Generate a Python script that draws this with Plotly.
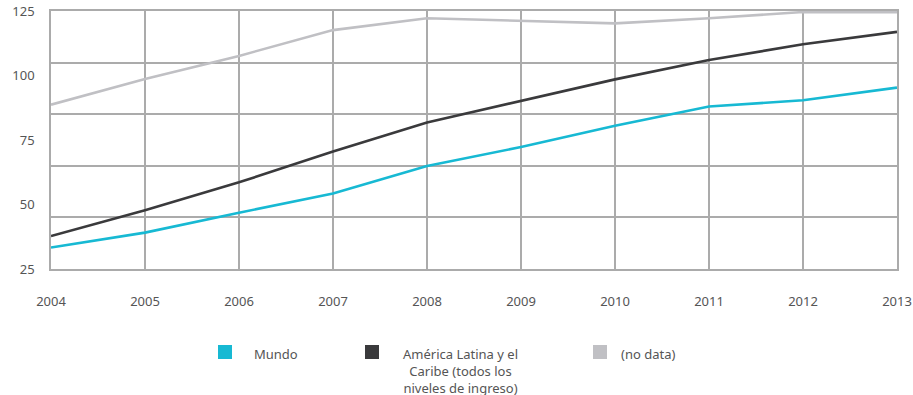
import plotly.graph_objects as go

years = [2004, 2005, 2006, 2007, 2008, 2009, 2010, 2011, 2012, 2013]
mundo = [33.3, 39.1, 46.8, 54.3, 64.9, 72.3, 80.5, 88.0, 90.4, 95.3]
lac = [37.8, 47.8, 58.6, 70.5, 81.8, 90.2, 98.5, 106.0, 112.1, 116.9]
nodata = [88.7, 98.6, 107.6, 117.6, 122.2, 121.2, 120.2, 122.2, 124.6, 124.5]

names = ["Mundo", "América Latina y el<br>Caribe (todos los<br>niveles de ingreso)", "(no data)"]
colors = ["#17b9d3", "#3a3a3c", "#c0c0c4"]
series = [mundo, lac, nodata]

y_ticks = [25, 50, 75, 100, 125]
grid_vals = [25, 45, 65, 85, 105, 125]

W, H = 913, 395
L, R, T, B = 51, 16, 11, 126
PW, PH = W - L - R, H - T - B

fig = go.Figure()
for name, col, vals in reversed(list(zip(names, colors, series))):
    fig.add_trace(go.Scatter(x=years, y=vals, mode="lines", name=name,
                             line=dict(color=col, width=2.6), showlegend=False,
                             cliponaxis=True))

gridc = "#ababab"
fig.update_layout(
    width=W, height=H,
    margin=dict(l=L, r=R, t=T, b=B, autoexpand=False),
    paper_bgcolor="white", plot_bgcolor="white",
    font=dict(family="Noto Sans", size=13, color="#555555"),
    xaxis=dict(range=[2004, 2013], tickvals=years, showgrid=True, gridcolor=gridc, gridwidth=1.6,
               showline=True, mirror=True, linecolor=gridc, linewidth=1.6, zeroline=False,
               ticks="", ticklabelstandoff=20, automargin=False),
    yaxis=dict(range=[25, 125], tickvals=y_ticks, showgrid=False, zeroline=False,
               showline=True, mirror=True, linecolor=gridc, linewidth=1.6,
               ticks="", ticklabelstandoff=12, automargin=False,
               minor=dict(tickvals=grid_vals, showgrid=True, gridcolor=gridc, gridwidth=1.6, ticks="")),
)

def px(x):
    return (x - L) / PW

def py(y):
    return (H - B - y) / PH

# legend built from series names/colors
sq_x = [218, 365, 593]
txt_x = [252, 460, 619]
anchors = ["left", "center", "left"]
for i in range(3):
    fig.add_shape(type="rect", xref="paper", yref="paper",
                  x0=px(sq_x[i]), x1=px(sq_x[i] + 14), y0=py(359), y1=py(345),
                  fillcolor=colors[i], line=dict(width=0))
    fig.add_annotation(xref="paper", yref="paper", x=px(txt_x[i]), y=py(343),
                       xanchor=anchors[i], yanchor="top", align="center",
                       text=names[i], showarrow=False,
                       font=dict(family="Noto Sans", size=13, color="#555555"))

fig.write_html("out.html")
